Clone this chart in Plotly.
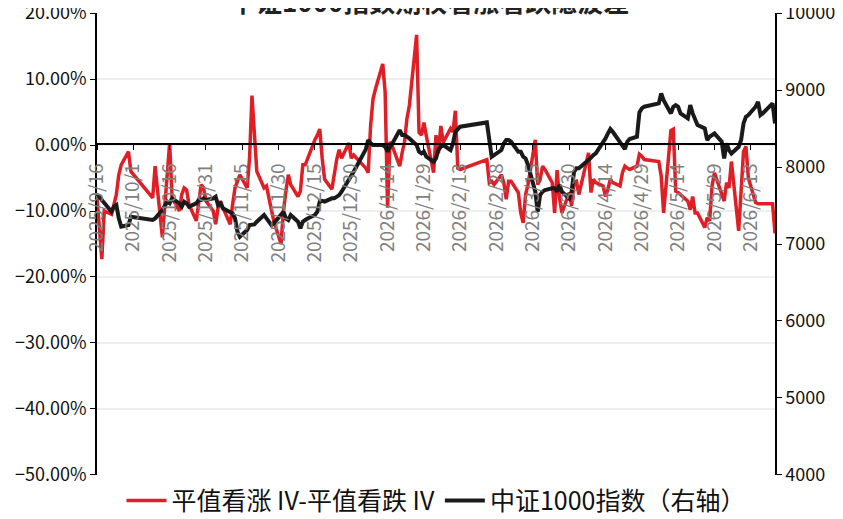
import plotly.graph_objects as go
import pandas as pd

# trading calendar (weekdays minus exchange holidays)
HOLIDAYS = ["2025-10-01", "2025-10-02", "2025-10-03", "2025-10-06", "2025-10-07", "2025-10-08",
            "2026-01-01", "2026-01-02",
            "2026-02-16", "2026-02-17", "2026-02-18", "2026-02-19", "2026-02-20", "2026-02-23",
            "2026-04-06", "2026-05-01", "2026-05-04", "2026-05-05", "2026-06-19"]
dates = pd.bdate_range("2025-09-16", "2026-06-23")
dates = dates[~dates.isin(pd.to_datetime(HOLIDAYS))]

# ATM call IV minus ATM put IV, in %
iv_spread = (
    [-8, -12, -17.3, -10, -10.5, -9, -7.5, -4.5, -3, -1, -4]
    + [-8, -3.2, -14, -9, -3, 0.3, -8, -10, -7.5, -6.5, -6.8, -9, -11.5, -8.5, -6, -6.5, -8.5]
    + [-10, -12, -9.5, -8.5, -9.5, -12, -9, -6.5, -5.5, -4.5,
       -6.5, -2, 7.5, 2, -4, -6.5, -6.2, -8, -10, -11.5]
    + [-15, -10, -7, -4.5, -6, -7.8, -7, -3, -3, -2, 0.8, 1.5, 2.4, -2, -5.2,
       -6.7, -4, -2.2, -0.7, -2, 0.3, -2, -1.5]
    + [-3.5, -4.2, 3, 7, 8.5, 12.3, 8, -9.5, 0.5, -0.2,
       -3.2, -1.2, 0.5, 4, 6, 16.7, 1.9, 1.5, 3.4, 1.4]
    + [-4.2, 1.5, -1.2, 2.9, 0.4, 2.5, 2, 5.2, -3.5, -3.7, -2.2, -5.7, -5.5, -6]
    + [-4.5, -5.7, -8.2, -5.5, -5.5, -7.2, -10.3, -11.8, -7.5, -6, 0.8, -6, -5.2, -3.2, -3.7,
       -5.7, -10.3, -3.8, -8, -10.3, -7.2, -9.2]
    + [-5.7, -5.5, -7.5, -1.2, -7.2, -5.2, -5.7, -6.2, -7.8, -6.7, -5.2, -5.7,
       -6.2, -4.2, -3.2, -3.5, -3.7, -3.2, -1.4, -1.7, -2.2]
    + [-2.5, -4.7, -10.3, 2.2, 2.4, -7, -7.2, -7.5, -8.5, -9.8, -7.8, -10.3, -10.3,
       -12.5, -11, -11.5, -6.2, -4.2]
    + [-7.2, -8.5, -5.7, -6.5, -2.5, -13, -7, -1, -0.2, -5, -8.7, -8.9, -8.9, -8.9, -8.9, -13.4]
)

# CSI 1000 index close
csi1000 = (
    [7636, 7614, 7571, 7528, 7420, 7485, 7506, 7333, 7225, 7247, 7355]
    + [7312, 7333, 7441, 7485, 7550, 7528, 7593, 7528, 7485, 7550, 7528, 7485, 7528, 7571,
       7571, 7593, 7571]
    + [7593, 7614, 7506, 7528, 7463, 7420, 7398, 7333, 7160, 7095, 7182, 7247, 7247, 7255,
       7290, 7377, 7333, 7290, 7247, 7268]
    + [7398, 7420, 7333, 7312, 7377, 7290, 7203, 7290, 7312, 7333, 7377, 7420, 7550, 7560,
       7550, 7593, 7593, 7614, 7636, 7679, 7831, 7896, 7939]
    + [8230, 8351, 8307, 8286, 8286, 8286, 8264, 8199, 8264, 8307, 8480, 8416, 8416, 8394,
       8372, 8286, 8199, 8177, 8199, 8134]
    + [8069, 8112, 8221, 8264, 8286, 8221, 8307, 8458, 8502, 8524, 8580, 8372, 8134, 8156]
    + [8221, 8307, 8351, 8351, 8329, 8199, 8199, 8134, 8112, 8026, 7680, 7420, 7636, 7680,
       7700, 7723, 7723, 7680, 7766, 7680, 7593, 7680]
    + [7939, 7983, 7983, 8091, 8134, 8156, 8177, 8307, 8372, 8437, 8494, 8458, 8329, 8286,
       8234, 8329, 8364, 8394, 8710, 8762, 8784]
    + [8827, 8957, 8870, 8697, 8784, 8805, 8784, 8697, 8632, 8805, 8697, 8610, 8545, 8502,
       8351, 8394, 8424, 8437]
    + [8329, 8113, 8307, 8221, 8177, 8264, 8351, 8567, 8654, 8675, 8784, 8848, 8675, 8700,
       8827, 8567]
)

assert len(dates) == len(iv_spread) == len(csi1000), (len(dates), len(iv_spread), len(csi1000))

TITLE = "中证1000指数期权看涨看跌隐波差"
NAME_RED = "平值看涨 IV-平值看跌 IV"
NAME_BLACK = "中证1000指数（右轴）"

FONT = "Noto Sans CJK SC"
RED = "#de1f26"
BLACK = "#1a1a1a"

fig = go.Figure()
fig.add_trace(go.Scatter(
    x=dates, y=iv_spread, mode="lines", name=NAME_RED,
    line=dict(color=RED, width=3.5),
))
fig.add_trace(go.Scatter(
    x=dates, y=csi1000, mode="lines", name=NAME_BLACK, yaxis="y2",
    line=dict(color=BLACK, width=4),
))

# title sits partly above the page edge, as in the source
fig.add_annotation(
    x=0.49, y=1.028, xref="paper", yref="paper",
    text=f"<b>{TITLE}</b>", showarrow=False,
    font=dict(family=FONT, size=26, color="#222222"),
    xanchor="center", yanchor="middle",
)

# page body has an 8px margin, so the figure is 8px smaller and margins shifted
fig.update_layout(
    width=835, height=511,
    margin=dict(l=89, r=68, t=5, b=44, autoexpand=False),
    paper_bgcolor="white", plot_bgcolor="white",
    font=dict(family=FONT, color="#111111"),
    showlegend=True,
    legend=dict(
        orientation="h", x=0.5, xanchor="center", y=-0.056, yanchor="middle",
        font=dict(family=FONT, size=25, color="#111111"),
        bgcolor="rgba(0,0,0,0)", itemwidth=40, tracegroupgap=0,
    ),
    xaxis=dict(
        type="date",
        range=["2025-09-16", "2026-06-23"],
        tick0="2025-09-16", dtick=15 * 86400000,
        tickformat="%Y/%-m/%-d", tickangle=-90,
        tickfont=dict(family=FONT, size=19, color="#7f7f7f"),
        anchor="free", position=(475 - 144) / 462,
        showline=True, linecolor="black", linewidth=1.5,
        ticks="outside", ticklen=5, tickcolor="black", ticklabelstandoff=6,
        showgrid=False, zeroline=False, automargin=False,
    ),
    yaxis=dict(
        range=[-50.02, 20.02], tick0=0, dtick=10, tickformat=".2f", ticksuffix="%",
        tickfont=dict(family=FONT, size=18, color="#111111"),
        showline=True, linecolor="black", linewidth=1.5,
        ticks="outside", ticklen=5, tickcolor="black",
        showgrid=True, gridcolor="#eeeeee", gridwidth=1.5, zeroline=False,
        automargin=False, ticklabeloverflow="allow",
    ),
    yaxis2=dict(
        range=[3998, 10002], tick0=0, dtick=1000, tickformat="d",
        overlaying="y", side="right",
        tickfont=dict(family=FONT, size=18, color="#111111"),
        showline=True, linecolor="black", linewidth=1.5,
        ticks="outside", ticklen=5, tickcolor="black",
        showgrid=False, zeroline=False, automargin=False, ticklabeloverflow="allow",
    ),
)

fig.write_html("out.html")
